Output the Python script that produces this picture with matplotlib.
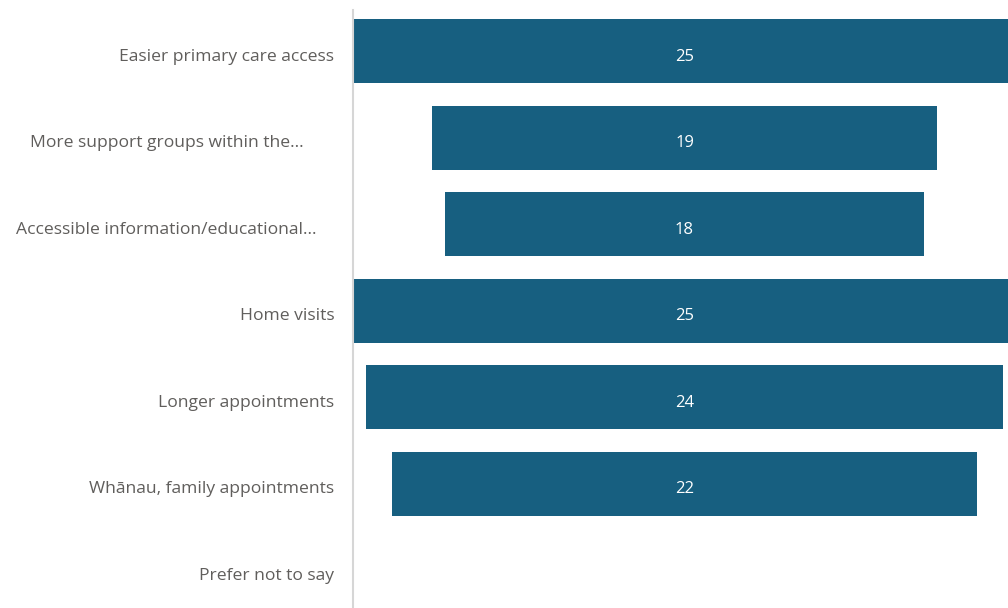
import matplotlib
matplotlib.use("Agg")
import matplotlib.pyplot as plt

categories = [
    "Easier primary care access",
    "More support groups within the...",
    "Accessible information/educational...",
    "Home visits",
    "Longer appointments",
    "Whānau, family appointments",
    "Prefer not to say",
]
values = [25, 19, 18, 25, 24, 22, 0]
# truncated labels sit a little further from the axis
label_pad = [0, 31, 18, 0, 0, 0, 0]

BAR = "#175f80"
TEXT = "#605e5c"
plt.rcParams["font.family"] = ["Open Sans", "DejaVu Sans"]

fig = plt.figure(figsize=(10.08, 6.08), dpi=100)
ax = fig.add_axes([352.5 / 1008, -7 / 608, 664 / 1008, 605.5 / 608])

ys = range(len(categories))
ax.barh(list(ys), values, left=[-v / 2 for v in values], height=0.74, color=BAR)
for y, v in zip(ys, values):
    if v:
        ax.text(0, y + 0.065, str(v), ha="center", va="center", color="white", fontsize=12)

ax.set_xlim(-12.5, 12.5)
ax.set_ylim(6.52, -0.48)
ax.set_xticks([])
ax.set_yticks([])
for y, (lab, pad) in enumerate(zip(categories, label_pad)):
    ax.annotate(lab, xy=(0, y + 0.065), xycoords=("axes fraction", "data"),
                xytext=(-13 - pad * 0.72, 0), textcoords="offset points",
                ha="right", va="center", color=TEXT, fontsize=12.6)

for s in ("top", "right", "bottom"):
    ax.spines[s].set_visible(False)
ax.spines["left"].set_color("#d6d6d6")
ax.spines["left"].set_linewidth(1.5)

fig.savefig("out.png", dpi=100)
